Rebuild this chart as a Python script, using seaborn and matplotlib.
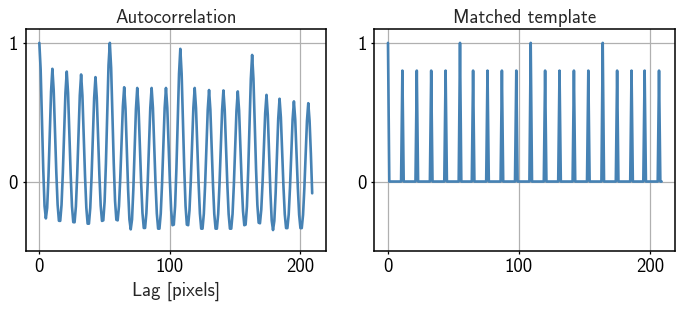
import numpy as np
import pandas as pd
import seaborn as sns
import matplotlib.pyplot as plt

# autocorrelation values, one per lag (0..209)
autocorr = [
	1.0, 0.81, 0.456, 0.088, -0.177, -0.266, -0.19, 0.036, 0.349, 0.651,
	0.813, 0.657, 0.368, 0.067, -0.166, -0.283, -0.284, -0.169, 0.061, 0.356,
	0.64, 0.793, 0.639, 0.352, 0.054, -0.178, -0.293, -0.294, -0.18, 0.047,
	0.339, 0.621, 0.772, 0.619, 0.335, 0.04, -0.189, -0.304, -0.304, -0.191,
	0.034, 0.324, 0.603, 0.753, 0.606, 0.332, 0.047, -0.174, -0.284, -0.28,
	-0.144, 0.129, 0.48, 0.84, 1.0, 0.819, 0.482, 0.132, -0.14, -0.276,
	-0.28, -0.178, 0.027, 0.29, 0.544, 0.68, 0.526, 0.239, -0.058, -0.273,
	-0.345, -0.274, -0.059, 0.236, 0.522, 0.675, 0.532, 0.265, -0.012, -0.227,
	-0.335, -0.335, -0.227, -0.012, 0.265, 0.532, 0.675, 0.531, 0.263, -0.015,
	-0.231, -0.34, -0.34, -0.231, -0.015, 0.263, 0.531, 0.675, 0.534, 0.273,
	0.002, -0.209, -0.315, -0.311, -0.176, 0.095, 0.442, 0.777, 0.957, 0.777,
	0.442, 0.095, -0.176, -0.311, -0.315, -0.209, 0.002, 0.273, 0.534, 0.675,
	0.531, 0.263, -0.015, -0.231, -0.34, -0.34, -0.233, -0.02, 0.254, 0.518,
	0.66, 0.518, 0.254, -0.02, -0.233, -0.34, -0.34, -0.234, -0.021, 0.252,
	0.515, 0.657, 0.515, 0.252, -0.021, -0.234, -0.34, -0.34, -0.234, -0.023,
	0.248, 0.509, 0.65, 0.513, 0.258, -0.007, -0.212, -0.315, -0.311, -0.181,
	0.08, 0.416, 0.739, 0.913, 0.741, 0.422, 0.09, -0.168, -0.297, -0.301,
	-0.202, -0.005, 0.249, 0.493, 0.625, 0.479, 0.206, -0.077, -0.282, -0.35,
	-0.284, -0.085, 0.19, 0.455, 0.597, 0.464, 0.218, -0.037, -0.236, -0.336,
	-0.336, -0.239, -0.044, 0.207, 0.448, 0.578, 0.448, 0.207, -0.044, -0.239,
	-0.336, -0.336, -0.24, -0.048, 0.199, 0.437, 0.565, 0.437, 0.199, -0.085,
]

# matched template: zero everywhere except at these lags
template_peak_lags = [0, 11, 22, 33, 44, 55, 65, 76, 87, 98,
	109, 120, 131, 142, 153, 164, 175, 186, 196, 207]
template_peak_vals = [1.0, 0.8, 0.8, 0.8, 0.8, 1.0, 0.8, 0.8, 0.8, 0.8,
	1.0, 0.8, 0.8, 0.8, 0.8, 1.0, 0.8, 0.8, 0.8, 0.8]

titles = ["Autocorrelation", "Matched template"]
xlabel = "Lag [pixels]"

lags = np.arange(len(autocorr))
template = np.zeros(len(autocorr))
template[template_peak_lags] = template_peak_vals

df = pd.DataFrame({"lag": lags, "Autocorrelation": autocorr, "Matched template": template})

sns.set_style("ticks")
plt.rcParams['font.family'] = ['cmss10', 'DejaVu Sans']
plt.rcParams['axes.unicode_minus'] = False
plt.rcParams['font.size'] = 13.5

color = "#4682b4"
fig = plt.figure(figsize=(6.76, 3.12), dpi=100)
ax1 = fig.add_axes([0.038, 0.196, 0.444, 0.711])
ax2 = fig.add_axes([0.5537, 0.196, 0.4453, 0.711])

for ax, name in zip([ax1, ax2], titles):
	sns.lineplot(data=df, x="lag", y=name, ax=ax, color=color, lw=1.9)
	ax.set_ylim(-0.5, 1.1)
	ax.set_xlim(-10.45, 219.45)
	ax.set_xticks([0, 100, 200])
	ax.set_yticks([0, 1])
	ax.grid(True, color="#b0b0b0", lw=0.9)
	ax.set_axisbelow(True)
	ax.set_title(name, fontsize=13.5, pad=4)
	ax.set_ylabel("")
	ax.set_xlabel("")
	ax.tick_params(length=2.5, width=0.9, pad=3, labelsize=13.5, colors="black")
	for s in ax.spines.values():
		s.set_linewidth(1.1)
		s.set_color("black")

ax1.set_xlabel(xlabel, fontsize=13.5, labelpad=4)

fig.savefig("out.png", dpi=100)
